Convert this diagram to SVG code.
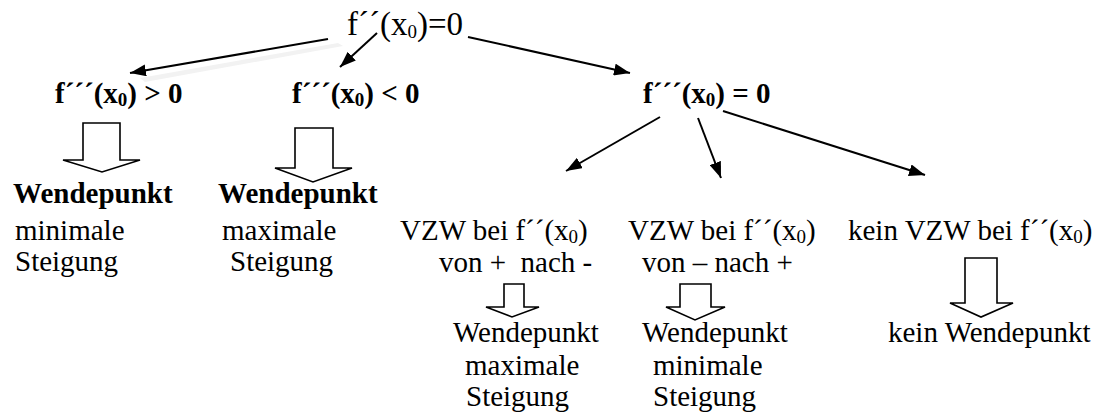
<svg xmlns="http://www.w3.org/2000/svg" width="1105" height="416" viewBox="0 0 1105 416">
<style>
text{font-family:"Liberation Serif","Times New Roman",Tinos,"DejaVu Serif",serif;font-size:29px;fill:#000;white-space:pre}
.b{font-weight:bold}
.t{font-size:33px}
.sub{font-size:19px}
.conn line{stroke:#000;stroke-width:2;marker-end:url(#ah)}
.blk{fill:#fff;stroke:#000;stroke-width:1.6;stroke-linejoin:miter}
</style>
<defs>
<marker id="ah" markerUnits="userSpaceOnUse" markerWidth="16" markerHeight="12" viewBox="0 0 16 12" refX="16" refY="6" orient="auto">
<path d="M0,0 L16,6 L0,12 z" fill="#000"/>
</marker>
</defs>
<rect width="1105" height="416" fill="#fff"/>
<polygon points="140,78 338,43 343,46 145,82" fill="#f2f2f2"/>
<g id="connectors" class="conn">
<line x1="328" y1="39" x2="130" y2="73"/>
<line x1="377" y1="33" x2="340" y2="67"/>
<line x1="468" y1="37" x2="630" y2="73"/>
<line x1="660" y1="117" x2="566" y2="171"/>
<line x1="698" y1="118" x2="721" y2="178"/>
<line x1="723" y1="111" x2="925" y2="175"/>
</g>
<g id="n-root"><text class="t" x="347" y="35">f´´(x<tspan class="sub" dy="3">0</tspan><tspan dy="-3">)=0</tspan></text></g>
<g id="n-gt"><text class="b" x="55" y="103">f´´´(x<tspan class="sub" dy="3">0</tspan><tspan dy="-3">) &gt; 0</tspan></text></g>
<g id="n-lt"><text class="b" x="292" y="103">f´´´(x<tspan class="sub" dy="3">0</tspan><tspan dy="-3">) &lt; 0</tspan></text></g>
<g id="n-eq"><text class="b" x="643" y="103">f´´´(x<tspan class="sub" dy="3">0</tspan><tspan dy="-3">) = 0</tspan></text></g>
<g id="blk1"><polygon class="blk" points="83,123 120,123 120,160 140,160 102,172 63,160 83,160"/></g>
<g id="blk2"><polygon class="blk" points="295,128 333,128 333,168 352,168 313,182 275,168 295,168"/></g>
<g id="n-wp1"><text class="b" x="13" y="203">Wendepunkt</text><text x="15" y="240">minimale</text><text x="15" y="271">Steigung</text></g>
<g id="n-wp2"><text class="b" x="218" y="203">Wendepunkt</text><text x="222" y="240">maximale</text><text x="230" y="271">Steigung</text></g>
<g id="n-vzw1"><text x="400" y="240">VZW bei f´´(x<tspan class="sub" dy="3">0</tspan><tspan dy="-3">)</tspan></text><text x="439" y="272">von +  nach -</text></g>
<g id="n-vzw2"><text x="628" y="240">VZW bei f´´(x<tspan class="sub" dy="3">0</tspan><tspan dy="-3">)</tspan></text><text x="642" y="272">von – nach +</text></g>
<g id="n-vzw3"><text x="848" y="240">kein VZW bei f´´(x<tspan class="sub" dy="3">0</tspan><tspan dy="-3">)</tspan></text></g>
<g id="blk3"><polygon class="blk" points="504,284 524,284 524,307 539,307 512,317 486,307 504,307"/></g>
<g id="blk4"><polygon class="blk" points="680,284 711,284 711,307 725,307 695,320 666,307 680,307"/></g>
<g id="blk5"><polygon class="blk" points="965,258 997,258 997,303 1013,303 981,317 950,303 965,303"/></g>
<g id="n-wp3"><text x="453" y="342">Wendepunkt</text><text x="465" y="375">maximale</text><text x="466" y="406">Steigung</text></g>
<g id="n-wp4"><text x="642" y="342">Wendepunkt</text><text x="653" y="375">minimale</text><text x="653" y="406">Steigung</text></g>
<g id="n-kwp"><text x="888" y="342">kein Wendepunkt</text></g>
</svg>
